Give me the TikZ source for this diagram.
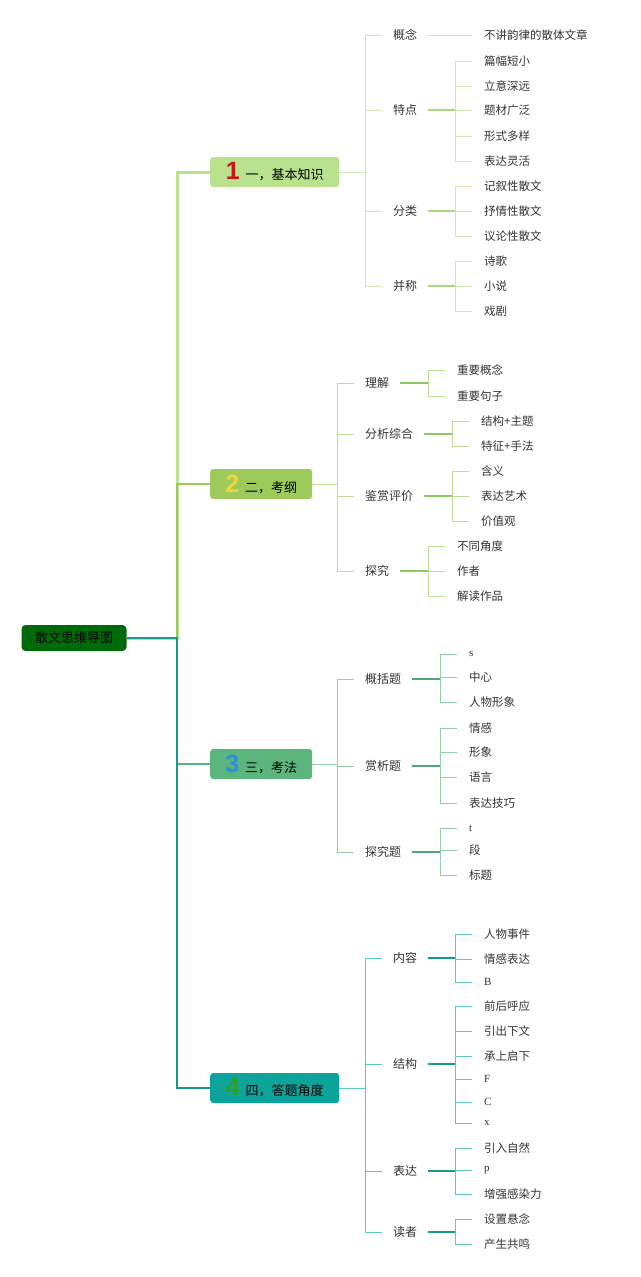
\documentclass[tikz,border=0pt]{standalone}
\usepackage{fontspec}
\setmainfont{Liberation Serif}
\newfontfamily\cjk{Noto Sans CJK SC}
\newfontfamily\numfont{Liberation Sans}
\usepackage{tikz}

\definecolor{rootgreen}{HTML}{006A0A}
\definecolor{boxA}{HTML}{B8E28E}
\definecolor{boxB}{HTML}{9CCB5B}
\definecolor{boxC}{HTML}{5CB57D}
\definecolor{boxD}{HTML}{0EA39A}
\definecolor{twigA}{HTML}{CDE9B0}
\definecolor{twigB}{HTML}{BEDD96}
\definecolor{twigC}{HTML}{93CFA8}
\definecolor{twigD}{HTML}{62C6BC}
\definecolor{stubA}{HTML}{A9D97E}
\definecolor{stubB}{HTML}{90C760}
\definecolor{stubC}{HTML}{4FA873}
\definecolor{stubD}{HTML}{16998F}
\definecolor{numred}{HTML}{D0101B}
\definecolor{numyellow}{HTML}{F2D43C}
\definecolor{numblue}{HTML}{2A8FDE}
\definecolor{numgreen}{HTML}{2E9E2A}
\definecolor{inkgray}{HTML}{333333}

\newcommand{\bignum}[2]{{\numfont\bfseries\fontsize{25}{25}\selectfont\color{#1}#2}\hspace{6pt}}

\tikzset{
  rootbox/.style={fill=rootgreen, rounded corners=4pt, minimum width=105pt, minimum height=26pt,
    inner sep=0pt, font=\cjk\fontsize{13}{15}\selectfont, text=black},
  mainbox/.style={rounded corners=3pt, minimum height=30pt, inner sep=0pt, anchor=west,
    font=\cjk\fontsize{13}{15}\selectfont, text=black},
  topic/.style={anchor=west, inner xsep=11pt, inner ysep=2pt, font=\cjk\fontsize{12}{14}\selectfont, text=inkgray},
  leaf/.style={anchor=west, inner xsep=12pt, inner ysep=2pt, font=\cjk\fontsize{11.5}{14}\selectfont, text=inkgray},
  latin/.style={font=\rmfamily\fontsize{11}{13}\selectfont},
  twig/.style={draw=#1, line width=0.9pt},
  stub/.style={draw=#1, line width=1.3pt},
}

\begin{document}
\begin{tikzpicture}[x=1pt, y=-1pt]
    \useasboundingbox (0,0) rectangle (640,1277);

    % Trunk and fork positions
    \coordinate (T0) at (177,0);
    \coordinate (T1) at (365,0);
    \coordinate (T2) at (337,0);
    \coordinate (T3) at (337,0);
    \coordinate (T4) at (365,0);
    \coordinate (V1) at (455,0);
    \coordinate (V2a) at (428,0);
    \coordinate (V2b) at (452,0);
    \coordinate (V3) at (440,0);
    \coordinate (V4) at (455,0);

    % Root and main boxes
    \node[rootbox] (sanwen) at (74,638) {散文思维导图};
    \node[mainbox, fill=boxA, minimum width=129pt] (zhishi) at (210,172) {\bignum{numred}{1}一，基本知识};
    \node[mainbox, fill=boxB, minimum width=102pt] (kaogang) at (210,484) {\bignum{numyellow}{2}二，考纲};
    \node[mainbox, fill=boxC, minimum width=102pt] (kaofa) at (210,764) {\bignum{numblue}{3}三，考法};
    \node[mainbox, fill=boxD, minimum width=129pt] (jiaodu) at (210,1088) {\bignum{numgreen}{4}四，答题角度};

    % Root connectors
    \draw[boxA, line width=3pt] (sanwen.east) -| (T0 |- zhishi.west) -- (zhishi.west);
    \draw[boxB, line width=2.5pt] (sanwen.east) -| (T0 |- kaogang.west) -- (kaogang.west);
    \draw[boxC, line width=1.6pt] (sanwen.east) -| (T0 |- kaofa.west) -- (kaofa.west);
    \draw[stubD, line width=2pt] (sanwen.east) -| (T0 |- jiaodu.west) -- (jiaodu.west);

    % 1: topics
    \node[topic] (gainian) at (382,35) {概念};
    \node[topic] (tedian) at (382,110) {特点};
    \node[topic] (fenlei) at (382,211) {分类};
    \node[topic] (bingcheng) at (382,286) {并称};
    % 1: leaves
    \node[leaf] (gn1) at (472,35) {不讲韵律的散体文章};
    \node[leaf] (td1) at (472,61) {篇幅短小};
    \node[leaf] (td2) at (472,86) {立意深远};
    \node[leaf] (td3) at (472,110) {题材广泛};
    \node[leaf] (td4) at (472,136) {形式多样};
    \node[leaf] (td5) at (472,161) {表达灵活};
    \node[leaf] (fl1) at (472,186) {记叙性散文};
    \node[leaf] (fl2) at (472,211) {抒情性散文};
    \node[leaf] (fl3) at (472,236) {议论性散文};
    \node[leaf] (bc1) at (472,261) {诗歌};
    \node[leaf] (bc2) at (472,286) {小说};
    \node[leaf] (bc3) at (472,311) {戏剧};

    \draw[twig=twigA] (zhishi.east) -| (T1 |- gainian.west) -- (gainian.west);
    \draw[twig=twigA] (zhishi.east) -| (T1 |- tedian.west) -- (tedian.west);
    \draw[twig=twigA] (zhishi.east) -| (T1 |- fenlei.west) -- (fenlei.west);
    \draw[twig=twigA] (zhishi.east) -| (T1 |- bingcheng.west) -- (bingcheng.west);
    \draw[twig=twigA] (gainian.east) -- (gn1.west);
    \draw[stub=stubA] (tedian.east) -- (tedian.east -| V1);
    \draw[twig=twigA] (tedian.east -| V1) |- (td1.west);
    \draw[twig=twigA] (tedian.east -| V1) |- (td2.west);
    \draw[twig=twigA] (tedian.east -| V1) |- (td3.west);
    \draw[twig=twigA] (tedian.east -| V1) |- (td4.west);
    \draw[twig=twigA] (tedian.east -| V1) |- (td5.west);
    \draw[stub=stubA] (fenlei.east) -- (fenlei.east -| V1);
    \draw[twig=twigA] (fenlei.east -| V1) |- (fl1.west);
    \draw[twig=twigA] (fenlei.east -| V1) |- (fl2.west);
    \draw[twig=twigA] (fenlei.east -| V1) |- (fl3.west);
    \draw[stub=stubA] (bingcheng.east) -- (bingcheng.east -| V1);
    \draw[twig=twigA] (bingcheng.east -| V1) |- (bc1.west);
    \draw[twig=twigA] (bingcheng.east -| V1) |- (bc2.west);
    \draw[twig=twigA] (bingcheng.east -| V1) |- (bc3.west);

    % 2: topics
    \node[topic] (lijie) at (354,383) {理解};
    \node[topic] (fenxi) at (354,434) {分析综合};
    \node[topic] (jianshang) at (354,496) {鉴赏评价};
    \node[topic] (tanjiu) at (354,571) {探究};
    % 2: leaves
    \node[leaf] (lj1) at (445,370) {重要概念};
    \node[leaf] (lj2) at (445,396) {重要句子};
    \node[leaf] (fx1) at (469,421) {结构+主题};
    \node[leaf] (fx2) at (469,446) {特征+手法};
    \node[leaf] (js1) at (469,471) {含义};
    \node[leaf] (js2) at (469,496) {表达艺术};
    \node[leaf] (js3) at (469,521) {价值观};
    \node[leaf] (tj1) at (445,546) {不同角度};
    \node[leaf] (tj2) at (445,571) {作者};
    \node[leaf] (tj3) at (445,596) {解读作品};

    \draw[twig=twigB] (kaogang.east) -| (T2 |- lijie.west) -- (lijie.west);
    \draw[twig=twigB] (kaogang.east) -| (T2 |- fenxi.west) -- (fenxi.west);
    \draw[twig=twigB] (kaogang.east) -| (T2 |- jianshang.west) -- (jianshang.west);
    \draw[twig=twigB] (kaogang.east) -| (T2 |- tanjiu.west) -- (tanjiu.west);
    \draw[stub=stubB] (lijie.east) -- (lijie.east -| V2a);
    \draw[twig=twigB] (lijie.east -| V2a) |- (lj1.west);
    \draw[twig=twigB] (lijie.east -| V2a) |- (lj2.west);
    \draw[stub=stubB] (fenxi.east) -- (fenxi.east -| V2b);
    \draw[twig=twigB] (fenxi.east -| V2b) |- (fx1.west);
    \draw[twig=twigB] (fenxi.east -| V2b) |- (fx2.west);
    \draw[stub=stubB] (jianshang.east) -- (jianshang.east -| V2b);
    \draw[twig=twigB] (jianshang.east -| V2b) |- (js1.west);
    \draw[twig=twigB] (jianshang.east -| V2b) |- (js2.west);
    \draw[twig=twigB] (jianshang.east -| V2b) |- (js3.west);
    \draw[stub=stubB] (tanjiu.east) -- (tanjiu.east -| V2a);
    \draw[twig=twigB] (tanjiu.east -| V2a) |- (tj1.west);
    \draw[twig=twigB] (tanjiu.east -| V2a) |- (tj2.west);
    \draw[twig=twigB] (tanjiu.east -| V2a) |- (tj3.west);

    % 3: topics
    \node[topic] (gaikuo) at (354,679) {概括题};
    \node[topic] (shangxi) at (354,766) {赏析题};
    \node[topic] (tanjiuti) at (354,852) {探究题};
    % 3: leaves
    \node[leaf, latin] (gk1) at (457,654) {s};
    \node[leaf] (gk2) at (457,677) {中心};
    \node[leaf] (gk3) at (457,702) {人物形象};
    \node[leaf] (sx1) at (457,728) {情感};
    \node[leaf] (sx2) at (457,752) {形象};
    \node[leaf] (sx3) at (457,777) {语言};
    \node[leaf] (sx4) at (457,803) {表达技巧};
    \node[leaf, latin] (tt1) at (457,828) {t};
    \node[leaf] (tt2) at (457,850) {段};
    \node[leaf] (tt3) at (457,875) {标题};

    \draw[twig=twigC] (kaofa.east) -| (T3 |- gaikuo.west) -- (gaikuo.west);
    \draw[twig=twigC] (kaofa.east) -| (T3 |- shangxi.west) -- (shangxi.west);
    \draw[twig=twigC] (kaofa.east) -| (T3 |- tanjiuti.west) -- (tanjiuti.west);
    \draw[stub=stubC] (gaikuo.east) -- (gaikuo.east -| V3);
    \draw[twig=twigC] (gaikuo.east -| V3) |- (gk1.west);
    \draw[twig=twigC] (gaikuo.east -| V3) |- (gk2.west);
    \draw[twig=twigC] (gaikuo.east -| V3) |- (gk3.west);
    \draw[stub=stubC] (shangxi.east) -- (shangxi.east -| V3);
    \draw[twig=twigC] (shangxi.east -| V3) |- (sx1.west);
    \draw[twig=twigC] (shangxi.east -| V3) |- (sx2.west);
    \draw[twig=twigC] (shangxi.east -| V3) |- (sx3.west);
    \draw[twig=twigC] (shangxi.east -| V3) |- (sx4.west);
    \draw[stub=stubC] (tanjiuti.east) -- (tanjiuti.east -| V3);
    \draw[twig=twigC] (tanjiuti.east -| V3) |- (tt1.west);
    \draw[twig=twigC] (tanjiuti.east -| V3) |- (tt2.west);
    \draw[twig=twigC] (tanjiuti.east -| V3) |- (tt3.west);

    % 4: topics
    \node[topic] (neirong) at (382,958) {内容};
    \node[topic] (jiegou) at (382,1064) {结构};
    \node[topic] (biaoda) at (382,1171) {表达};
    \node[topic] (duzhe) at (382,1232) {读者};
    % 4: leaves
    \node[leaf] (nr1) at (472,934) {人物事件};
    \node[leaf] (nr2) at (472,959) {情感表达};
    \node[leaf, latin] (nr3) at (472,982) {B};
    \node[leaf] (jg1) at (472,1006) {前后呼应};
    \node[leaf] (jg2) at (472,1031) {引出下文};
    \node[leaf] (jg3) at (472,1056) {承上启下};
    \node[leaf, latin] (jg4) at (472,1079) {F};
    \node[leaf, latin] (jg5) at (472,1102) {C};
    \node[leaf, latin] (jg6) at (472,1123) {x};
    \node[leaf] (bd1) at (472,1148) {引入自然};
    \node[leaf, latin] (bd2) at (472,1170) {p};
    \node[leaf] (bd3) at (472,1194) {增强感染力};
    \node[leaf] (dz1) at (472,1219) {设置悬念};
    \node[leaf] (dz2) at (472,1244) {产生共鸣};

    \draw[twig=twigD] (jiaodu.east) -| (T4 |- neirong.west) -- (neirong.west);
    \draw[twig=twigD] (jiaodu.east) -| (T4 |- jiegou.west) -- (jiegou.west);
    \draw[twig=twigD] (jiaodu.east) -| (T4 |- biaoda.west) -- (biaoda.west);
    \draw[twig=twigD] (jiaodu.east) -| (T4 |- duzhe.west) -- (duzhe.west);
    \draw[stub=stubD] (neirong.east) -- (neirong.east -| V4);
    \draw[twig=twigD] (neirong.east -| V4) |- (nr1.west);
    \draw[twig=twigD] (neirong.east -| V4) |- (nr2.west);
    \draw[twig=twigD] (neirong.east -| V4) |- (nr3.west);
    \draw[stub=stubD] (jiegou.east) -- (jiegou.east -| V4);
    \draw[twig=twigD] (jiegou.east -| V4) |- (jg1.west);
    \draw[twig=twigD] (jiegou.east -| V4) |- (jg2.west);
    \draw[twig=twigD] (jiegou.east -| V4) |- (jg3.west);
    \draw[twig=twigD] (jiegou.east -| V4) |- (jg4.west);
    \draw[twig=twigD] (jiegou.east -| V4) |- (jg5.west);
    \draw[twig=twigD] (jiegou.east -| V4) |- (jg6.west);
    \draw[stub=stubD] (biaoda.east) -- (biaoda.east -| V4);
    \draw[twig=twigD] (biaoda.east -| V4) |- (bd1.west);
    \draw[twig=twigD] (biaoda.east -| V4) |- (bd2.west);
    \draw[twig=twigD] (biaoda.east -| V4) |- (bd3.west);
    \draw[stub=stubD] (duzhe.east) -- (duzhe.east -| V4);
    \draw[twig=twigD] (duzhe.east -| V4) |- (dz1.west);
    \draw[twig=twigD] (duzhe.east -| V4) |- (dz2.west);
\end{tikzpicture}
\end{document}
